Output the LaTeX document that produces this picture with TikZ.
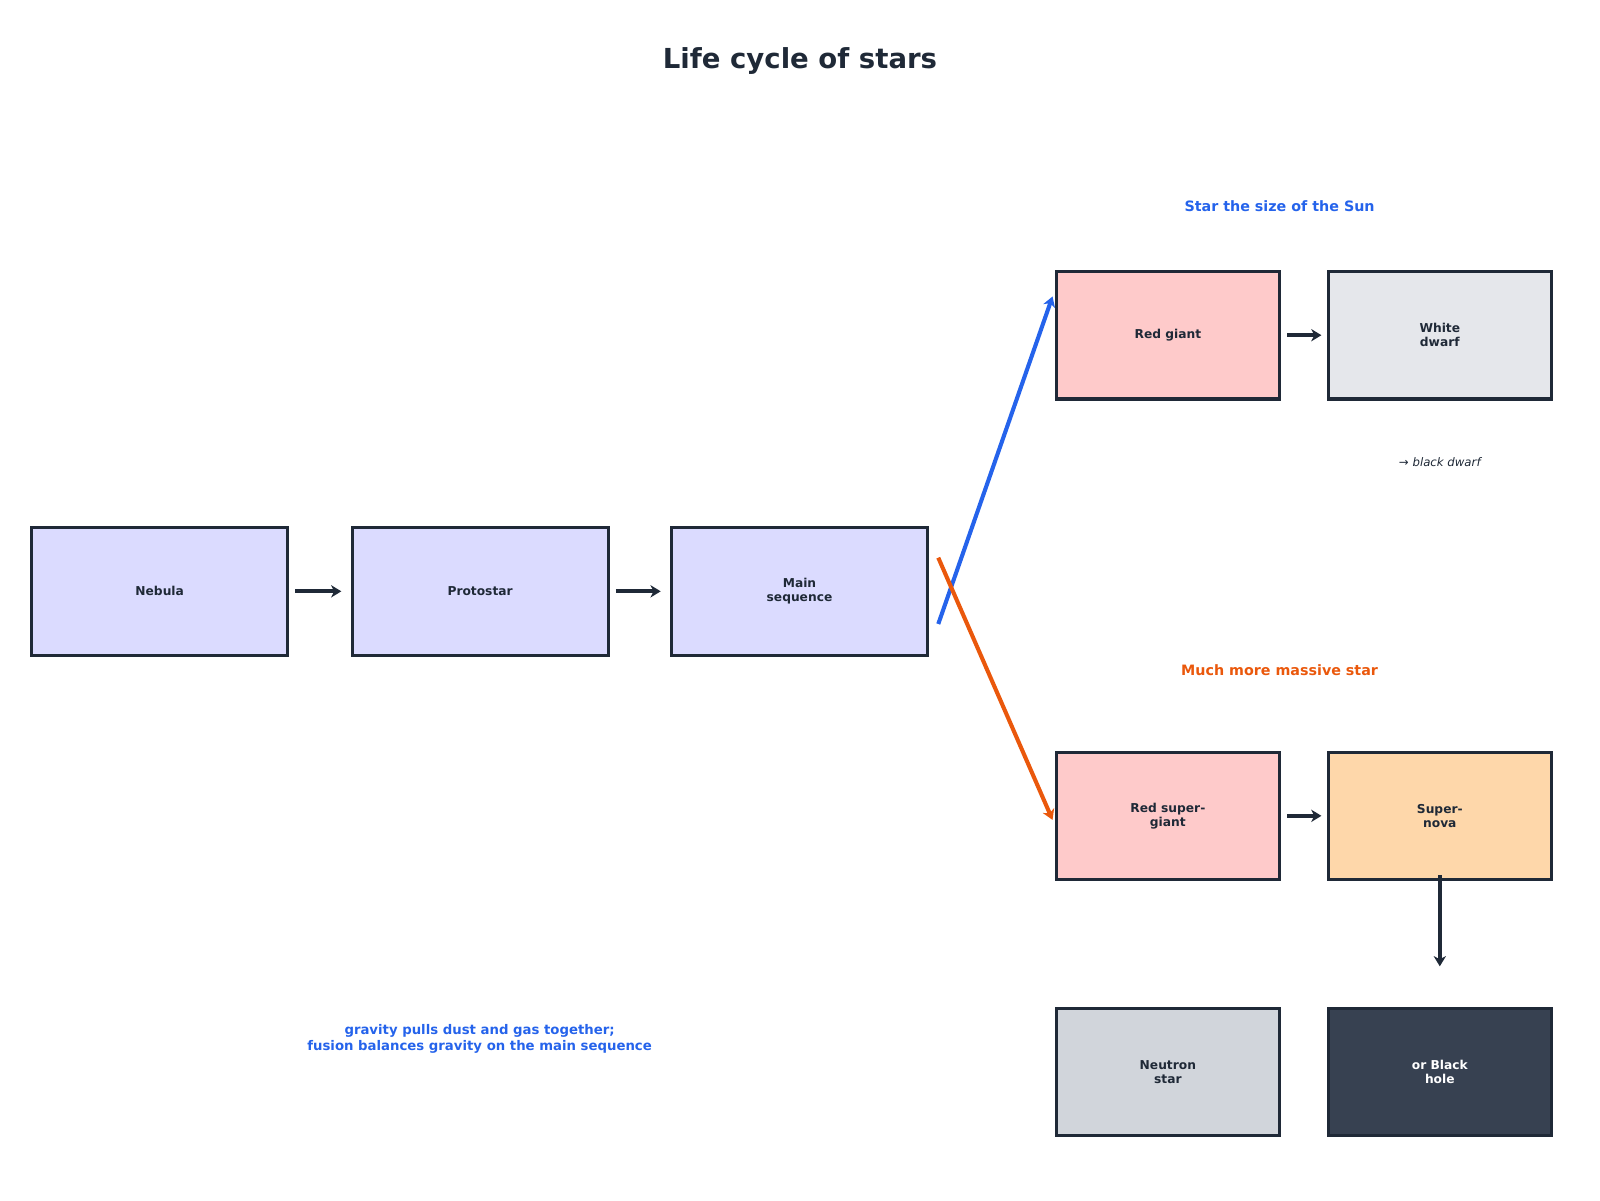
\documentclass[tikz,border=0pt]{standalone}
\usepackage{fontspec}
\setmainfont{DejaVu Sans}
\usetikzlibrary{arrows.meta}
\definecolor{ink}{HTML}{1F2937}
\definecolor{bl}{HTML}{2563EB}
\definecolor{orn}{HTML}{EA580C}
\begin{document}
\begin{tikzpicture}[x=1pt,y=-1pt,
 box/.style={draw=ink,line width=3pt,minimum width=219pt,minimum height=125pt,align=center,font=\bfseries\fontsize{12}{14}\selectfont,text=ink},
 wbox/.style={box,minimum width=251pt},
 arr/.style={line width=4pt,draw=ink,-{Stealth[length=10pt,width=12pt,inset=3pt]}}]
\useasboundingbox (0,0) rectangle (1568,1176);
\node[font=\bfseries\fontsize{27}{32}\selectfont,text=ink] (t) at (784,60) {Life cycle of stars};
\node[wbox,fill=blue!14!white] (neb) at (156.5,579.5) {Nebula};
\node[wbox,fill=blue!14!white] (pro) at (470.5,579.5) {Protostar};
\node[wbox,fill=blue!14!white] (ms) at (783.5,579.5) {Main\\sequence};
\node[box,fill={rgb,255:red,254;green,202;blue,202}] (rg) at (1144.5,328.5) {Red giant};
\node[box,fill={rgb,255:red,229;green,231;blue,235}] (wd) at (1411,328.5) {White\\dwarf};
\node[box,fill={rgb,255:red,254;green,202;blue,202}] (rsg) at (1144.5,799.5) {Red super-\\giant};
\node[box,fill={rgb,255:red,254;green,215;blue,170}] (sn) at (1411,799.5) {Super-\\nova};
\node[box,fill={rgb,255:red,209;green,213;blue,219}] (ns) at (1144.5,1050.5) {Neutron\\star};
\node[box,fill={rgb,255:red,55;green,65;blue,81},text=white] (bh) at (1411,1050.5) {or Black\\hole};
\node[font=\bfseries\fontsize{14}{17}\selectfont,text=bl] (l1) at (1254,202) {Star the size of the Sun};
\node[font=\bfseries\fontsize{14}{17}\selectfont,text=orn] (l2) at (1254,657) {Much more massive star};
\node[font=\itshape\fontsize{11.5}{14}\selectfont,text=ink] (bd) at (1411,453) {→ black dwarf};
\node[font=\bfseries\fontsize{13}{16}\selectfont,text=bl,align=center] (g) at (470,1018) {gravity pulls dust and gas together;\\fusion balances gravity on the main sequence};
\coordinate (snd) at (1411,947);
\draw[arr] ([xshift=6pt]neb.east) -- ([xshift=-9pt]pro.west);
\draw[arr] ([xshift=6pt]pro.east) -- ([xshift=-9pt]ms.west);
\draw[arr] ([xshift=6pt]rg.east) -- ([xshift=-5pt]wd.west);
\draw[arr] ([xshift=6pt]rsg.east) -- ([xshift=-5pt]sn.west);
\draw[arr] ([yshift=6pt]sn.south) -- (snd);
\draw[arr,draw=bl] ([shift={(9pt,-32pt)}]ms.east) -- ([shift={(-2pt,38pt)}]rg.west);
\draw[arr,draw=orn] ([shift={(9pt,33pt)}]ms.east) -- ([shift={(-2pt,-4pt)}]rsg.west);
\end{tikzpicture}
\end{document}
